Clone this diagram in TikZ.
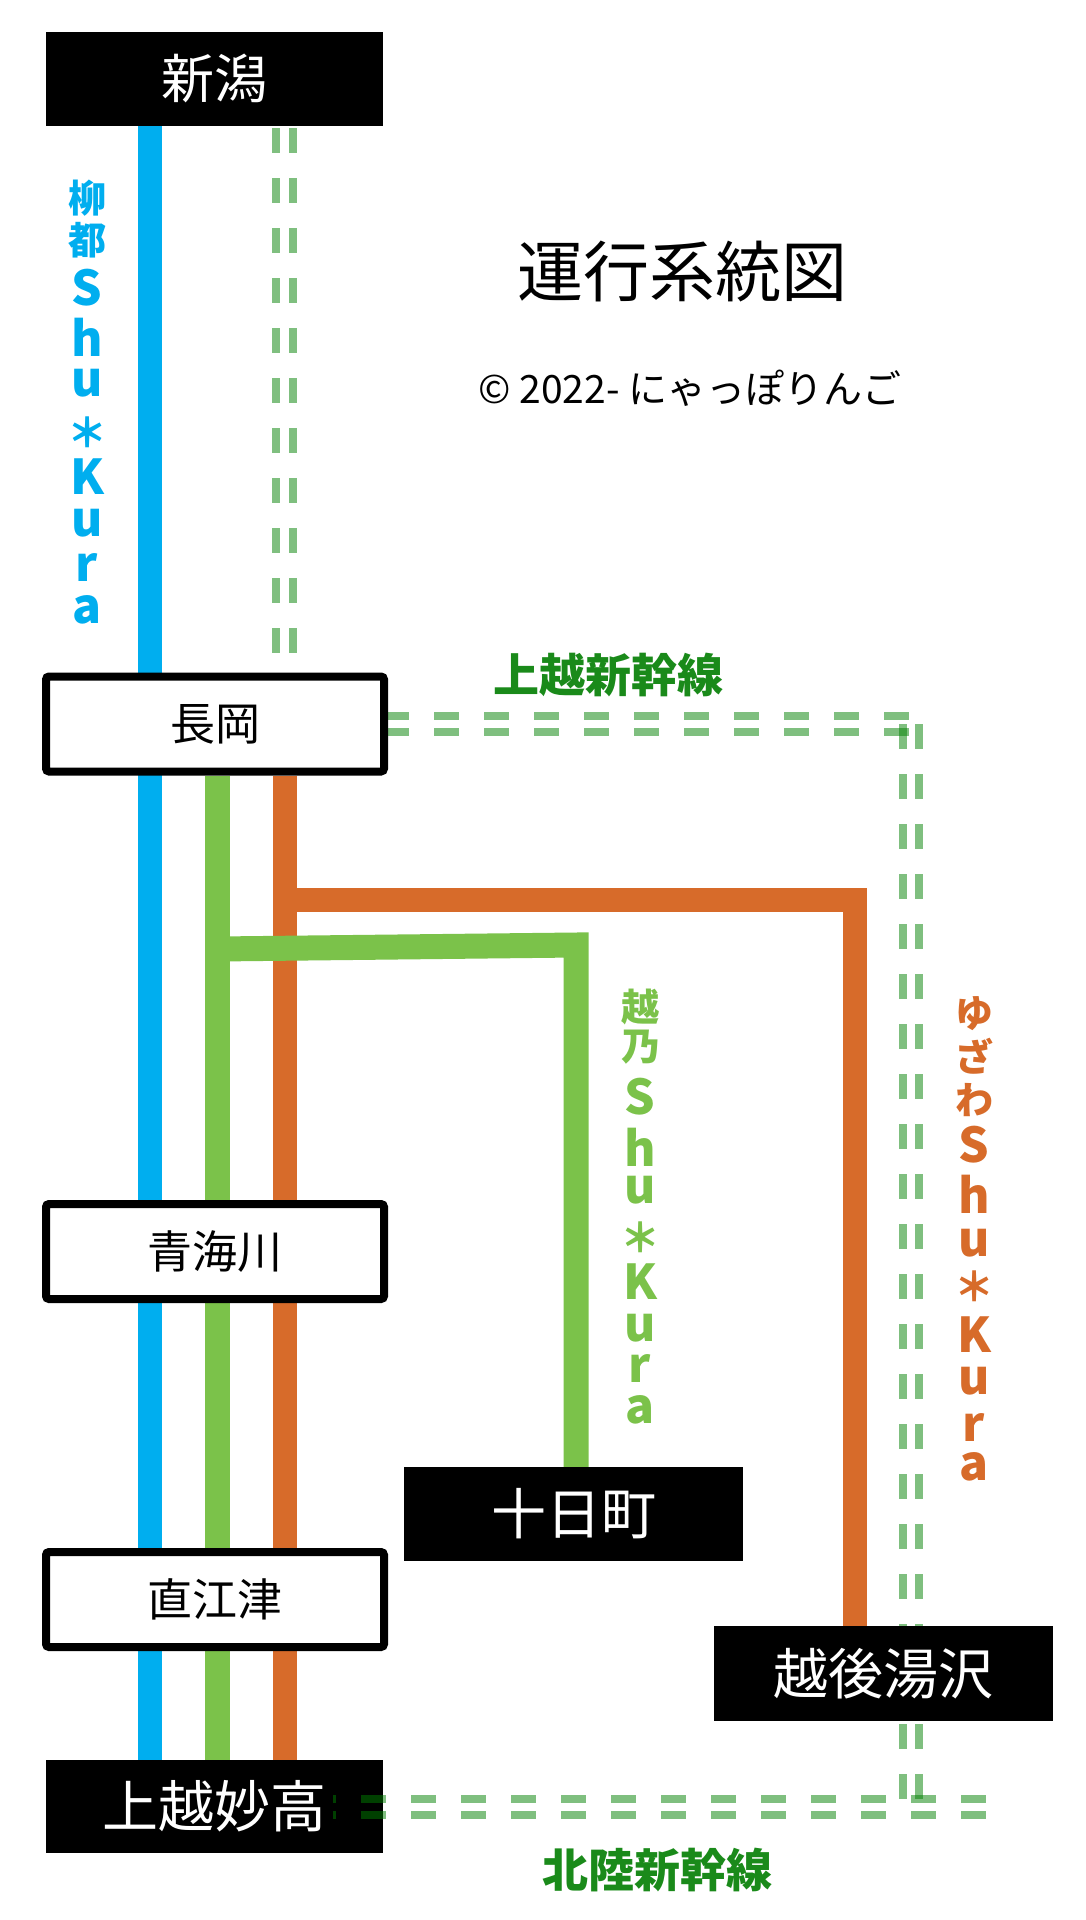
\documentclass[tikz,border=0pt]{standalone}
\usepackage{fontspec}
\setmainfont{Noto Sans CJK JP}
\definecolor{lblue}{HTML}{00AEEF}
\definecolor{lgreen}{HTML}{7BC24A}
\definecolor{lorange}{HTML}{D76B2A}
\definecolor{sgreen}{HTML}{008000}
\definecolor{dgreen}{HTML}{1A8A1A}
\newcommand\fsz[1]{\fontsize{#1}{#1}\selectfont}
\pgfdeclarelayer{backl}
\pgfdeclarelayer{linel}
\pgfsetlayers{backl,linel,main}
\begin{document}
\begin{tikzpicture}[x=1pt,y=-1pt,
  blackbox/.style={fill=black, draw=none, minimum width=337pt, minimum height=94pt, inner sep=0pt, text=white, font=\fsz{55}},
  whitebox/.style={fill=white, draw=black, line width=8pt, rounded corners=3pt, minimum width=338pt, minimum height=95pt, inner sep=0pt, font=\fsz{45}},
  bline/.style={draw=lblue, line width=24pt},
  gline/.style={draw=lgreen, line width=25pt, line join=miter},
  oline/.style={draw=lorange, line width=24pt, line join=miter},
  shin/.style={draw=sgreen, draw opacity=0.5, line width=8pt, dash pattern=on 25pt off 25pt},
  shinlab/.style={text=dgreen, font=\bfseries\fsz{46}},
  vlab/.style={inner sep=0pt}
]
\begin{pgfonlayer}{backl}
\path[use as bounding box, fill=white] (0,0) rectangle (1085,1920);
\end{pgfonlayer}

% stations
\node[blackbox, font=\fsz{53}] (niigata) at (214.5,78.5) {新潟};
\node[whitebox] (nagaoka) at (215,724) {長岡};
\node[whitebox] (oumi) at (215,1251.5) {青海川};
\node[whitebox] (naoetsu) at (215,1599.5) {直江津};
\node[blackbox, minimum height=93pt, font=\fsz{56}] (joetsu) at (214.5,1806.5) {上越妙高};
\node[blackbox, minimum width=339pt] (tokamachi) at (573.5,1514) {十日町};
\node[blackbox, minimum width=339pt, minimum height=95pt] (yuzawa) at (883.5,1673.5) {越後湯沢};

% titles
\node[font=\fsz{66}] (title) at (682,272) {運行系統図};
\node[font=\fsz{39}] (copy) at (690,388) {© 2022- にゃっぽりんご};
\node[shinlab] (jlab) at (608,675) {上越新幹線};
\node[shinlab] (hlab) at (657,1870) {北陸新幹線};

% vertical labels
\foreach \c/\yy/\s [count=\i] in {柳/198/38,都/240/38,S/288/48,h/337/48,u/383/48,＊/432/40,K/477/48,u/523/48,r/567/48,a/610/48}
  \node[vlab, text=lblue, font=\bfseries\fsz{\s}] (bl\i) at (87,\yy) {\c};
\foreach \c/\yy/\s [count=\i] in {越/1007/38,乃/1047/38,S/1097/48,h/1147/48,u/1190/48,＊/1237/40,K/1282/48,u/1328/48,r/1368/48,a/1410/48}
  \node[vlab, text=lgreen, font=\bfseries\fsz{\s}] (gl\i) at (640,\yy) {\c};
\foreach \c/\yy/\s [count=\i] in {ゆ/1014/38,ざ/1056/38,わ/1100/38,S/1145/48,h/1194/48,u/1243/48,＊/1286/40,K/1335/48,u/1381/48,r/1427/48,a/1467/48}
  \node[vlab, text=lorange, font=\bfseries\fsz{\s}] (ol\i) at (974,\yy) {\c};

% line coordinates
\coordinate (bx) at (150,0);
\coordinate (gx) at (217,0);
\coordinate (ox) at (285,0);
\coordinate (gb) at (217,949);
\coordinate (gc) at (576,945);
\coordinate (ob) at (285,900);
\coordinate (oc) at (855,900);

\begin{pgfonlayer}{linel}
\draw[bline] (niigata.south -| bx) -- (joetsu.north -| bx);
\draw[gline] (nagaoka.south -| gx) -- (joetsu.north -| gx);
\draw[oline] (nagaoka.south -| ox) -- (joetsu.north -| ox);
\draw[oline] (ob) -- (oc) -- (yuzawa.north -| oc);
\draw[gline] (gb) -- (gc) -- (tokamachi.north -| gc);
% Joetsu Shinkansen
\coordinate (v1a) at (275.5,128); \coordinate (v1b) at (275.5,653);
\coordinate (v2a) at (293,128);   \coordinate (v2b) at (293,653);
\draw[shin] (v1a) -- (v1b);
\draw[shin] (v2a) -- (v2b);
\coordinate (h1a) at (384,715.5); \coordinate (h1b) at (909,715.5);
\coordinate (h2a) at (384,732);   \coordinate (h2b) at (909,732);
\draw[shin] (h1a) -- (h1b);
\draw[shin] (h2a) -- (h2b);
\coordinate (r1a) at (902.5,724); \coordinate (r1b) at (902.5,1799);
\coordinate (r2a) at (919,724);   \coordinate (r2b) at (919,1799);
\draw[shin] (r1a) -- (r1b);
\draw[shin] (r2a) -- (r2b);
\end{pgfonlayer}

% Hokuriku Shinkansen (over the box)
\coordinate (k1a) at (333,1798.5); \coordinate (k1b) at (986,1798.5);
\coordinate (k2a) at (333,1814.5); \coordinate (k2b) at (986,1814.5);
\draw[shin, dash phase=22pt] (k1a) -- (k1b);
\draw[shin, dash phase=22pt] (k2a) -- (k2b);
\end{tikzpicture}
\end{document}
